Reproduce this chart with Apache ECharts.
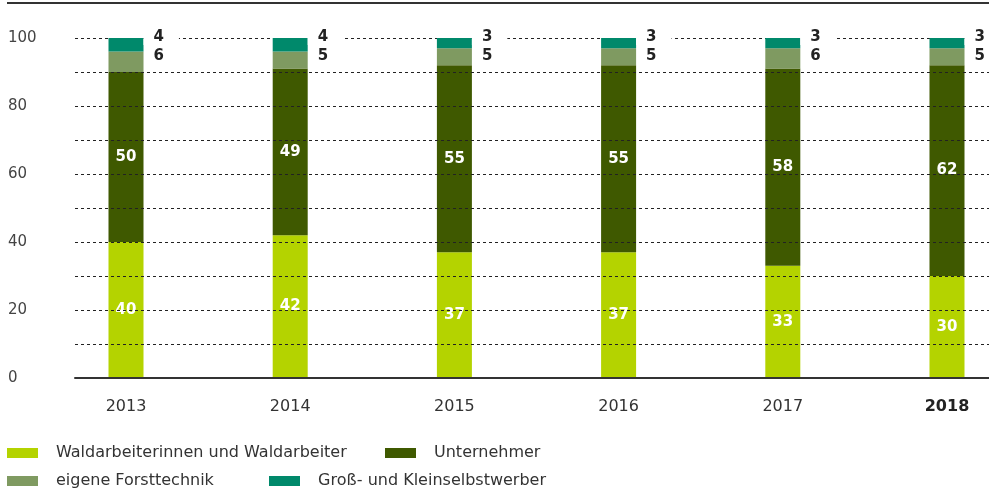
<!DOCTYPE html>
<html>
<head>
<meta charset="utf-8">
<script src="https://cdn.jsdelivr.net/npm/echarts@6/dist/echarts.min.js"></script>
<style>
html,body{margin:0;padding:0;background:#fff;}
#chart{width:989px;height:492px;}
</style>
</head>
<body>
<div id="chart"></div>
<script>
var years = ['2013', '2014', '2015', '2016', '2017', '2018'];
var waldarbeiter = [40, 42, 37, 37, 33, 30];
var unternehmer = [50, 49, 55, 55, 58, 62];
var forsttechnik = [6, 5, 5, 5, 6, 5];
var selbstwerber = [4, 4, 3, 3, 3, 3];
var yTicks = [0, 20, 40, 60, 80, 100];

var names = ['Waldarbeiterinnen und Waldarbeiter', 'Unternehmer', 'eigene Forsttechnik', 'Groß- und Kleinselbstwerber'];
var colors = ['#b4d300', '#3f5900', '#7f9a61', '#00896b'];
var font = 'DejaVu Sans';

var chart = echarts.init(document.getElementById('chart'));

function legendAt(i, left, top) {
  return {
    data: [names[i]],
    left: left, top: top,
    padding: 0,
    itemWidth: 31, itemHeight: 10,
    icon: 'rect',
    selectedMode: false,
    textStyle: {fontFamily: font, fontSize: 16, color: '#333', padding: [0, 0, 0, 13], lineHeight: 20}
  };
}

var inLabel = {
  show: true, position: 'inside', color: '#fff',
  fontFamily: font, fontSize: 15, fontWeight: 'bold'
};

option = {
  animation: false,
  color: colors,
  legend: [
    legendAt(0, 7, 443),
    legendAt(1, 385, 443),
    legendAt(2, 7, 471),
    legendAt(3, 269, 471)
  ],
  graphic: [{
    type: 'line', shape: {x1: 7, y1: 3, x2: 989, y2: 3},
    style: {stroke: '#333', lineWidth: 2}
  }],
  grid: [
    {left: 75, right: 0, top: 38, bottom: 114},
    {left: 126, right: 42, top: 38, bottom: 114}
  ],
  xAxis: [
    {
      gridIndex: 0, type: 'value', min: 0, max: 1, z: 3,
      axisLine: {show: true, lineStyle: {color: '#333', width: 2}},
      axisTick: {show: false}, axisLabel: {show: false}, splitLine: {show: false}
    },
    {
      gridIndex: 1, type: 'category', data: years, boundaryGap: false,
      axisLine: {show: false}, axisTick: {show: false},
      axisLabel: {
        margin: 21, fontFamily: font, fontSize: 16, color: '#333',
        formatter: function (v) { return v === '2018' ? '{b|' + v + '}' : v; },
        rich: {b: {fontFamily: font, fontSize: 16, fontWeight: 'bold', color: '#222'}}
      }
    }
  ],
  yAxis: [
    {
      gridIndex: 0, type: 'value', min: 0, max: 100, interval: 10, z: 3,
      axisLine: {show: false}, axisTick: {show: false},
      axisLabel: {
        margin: 67, align: 'left', fontFamily: font, fontSize: 15, color: '#444',
        formatter: function (v) { return yTicks.indexOf(v) >= 0 ? String(v) : ''; }
      },
      splitLine: {show: true, lineStyle: {color: '#222', type: [3, 3], width: 1}}
    },
    {
      gridIndex: 1, type: 'value', min: 0, max: 100, show: false
    }
  ],
  series: [
    {
      name: names[0], type: 'bar', stack: 'a', xAxisIndex: 1, yAxisIndex: 1,
      barWidth: 35, clip: false, data: waldarbeiter, label: inLabel
    },
    {
      name: names[1], type: 'bar', stack: 'a', xAxisIndex: 1, yAxisIndex: 1,
      barWidth: 35, clip: false, data: unternehmer, label: inLabel
    },
    {
      name: names[2], type: 'bar', stack: 'a', xAxisIndex: 1, yAxisIndex: 1,
      barWidth: 35, clip: false, data: forsttechnik
    },
    {
      name: names[3], type: 'bar', stack: 'a', xAxisIndex: 1, yAxisIndex: 1,
      barWidth: 35, clip: false, z: 4, data: selbstwerber,
      label: {
        show: true, position: ['100%', 0], offset: [0, -10],
        align: 'left', verticalAlign: 'top',
        formatter: function (p) {
          return '{a|' + p.value + '}\n{b|' + forsttechnik[p.dataIndex] + '}';
        },
        rich: {
          a: {fontFamily: font, fontSize: 15, fontWeight: 'bold', color: '#222',
              backgroundColor: '#fff', padding: [0, 15, 0, 10], lineHeight: 19},
          b: {fontFamily: font, fontSize: 15, fontWeight: 'bold', color: '#222',
              padding: [0, 0, 0, 10], lineHeight: 19}
        }
      }
    }
  ]
};

chart.setOption(option);
</script>
</body>
</html>
